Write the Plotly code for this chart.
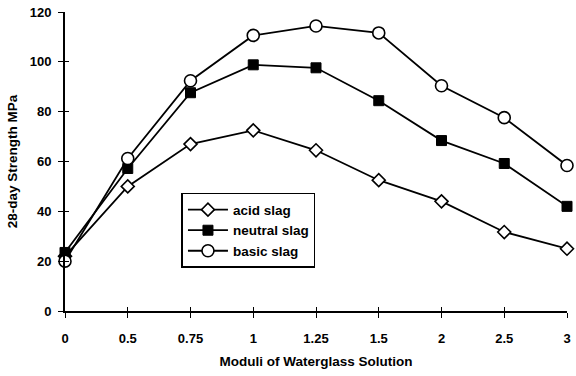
import plotly.graph_objects as go

moduli = ["0", "0.5", "0.75", "1", "1.25", "1.5", "2", "2.5", "3"]
acid_slag = [22, 50, 67, 72.5, 64.5, 52.5, 44, 31.7, 25]
neutral_slag = [23.5, 57.2, 87.6, 98.8, 97.6, 84.4, 68.4, 59.2, 42]
basic_slag = [20, 61.2, 92.4, 110.6, 114.4, 111.6, 90.4, 77.6, 58.4]
y_ticks = [0, 20, 40, 60, 80, 100, 120]

FONT = "Liberation Sans, Arial, sans-serif"

fig = go.Figure()
series = [
    ("acid slag", acid_slag, dict(symbol="diamond", size=10, color="white", line=dict(color="black", width=1.6))),
    ("neutral slag", neutral_slag, dict(symbol="square", size=10, color="black", line=dict(color="black", width=1))),
    ("basic slag", basic_slag, dict(symbol="circle", size=12, color="white", line=dict(color="black", width=1.6))),
]
for name, vals, mk in series:
    fig.add_trace(go.Scatter(x=moduli, y=vals, name=name, mode="lines+markers",
                             line=dict(color="black", width=1.8), marker=mk, cliponaxis=False))

# invisible trace on overlay axes to draw crossing (inside) ticks
fig.add_trace(go.Scatter(x=moduli, y=acid_slag, xaxis="x2", yaxis="y2", mode="markers",
                         marker=dict(opacity=0), showlegend=False, hoverinfo="skip"))

axis_font = dict(family=FONT, size=13, color="black", weight="bold")
fig.update_layout(
    width=576, height=376,
    margin=dict(l=65, r=5, t=12, b=65),
    paper_bgcolor="white", plot_bgcolor="white",
    font=dict(family=FONT, color="black"),
    xaxis=dict(type="category", categoryarray=moduli, range=[0, 8], showgrid=False, zeroline=False,
               showline=True, linecolor="black", linewidth=1.8, ticks="outside", ticklen=5,
               tickwidth=1.2, tickcolor="black", tickfont=axis_font, ticklabelstandoff=9,
               title=dict(text="Moduli of Waterglass Solution", font=dict(family=FONT, size=13.5, weight="bold"), standoff=12)),
    yaxis=dict(range=[0, 120], tickvals=y_ticks, showgrid=False, zeroline=False,
               showline=True, linecolor="black", linewidth=1.8, ticks="outside", ticklen=5,
               tickwidth=1.2, tickcolor="black", tickfont=axis_font, ticklabelstandoff=4,
               title=dict(text="28-day Strength MPa", font=dict(family=FONT, size=13.5, weight="bold"), standoff=9)),
    xaxis2=dict(type="category", categoryarray=moduli, overlaying="x", matches="x", range=[0, 8],
                showgrid=False, zeroline=False, showline=False, ticks="inside", ticklen=4,
                tickwidth=1.2, tickcolor="black", showticklabels=False),
    yaxis2=dict(overlaying="y", matches="y", range=[0, 120], tickvals=y_ticks, showgrid=False,
                zeroline=False, showline=False, ticks="inside", ticklen=4, tickwidth=1.2,
                tickcolor="black", showticklabels=False),
    legend=dict(x=0.232, y=0.395, xanchor="left", yanchor="top", bgcolor="white",
                bordercolor="black", borderwidth=1.5, font=dict(family=FONT, size=13.5, weight="bold"),
                itemwidth=40, tracegroupgap=0),
    showlegend=True,
)

fig.write_html("out.html")
